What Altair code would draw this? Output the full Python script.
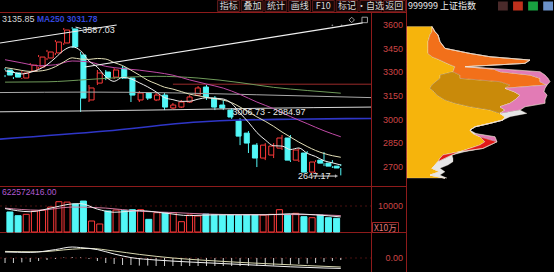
import altair as alt
import pandas as pd

# ---------------- candles (weekly) ----------------
opens = [3315, 3296, 3264, 3308, 3334, 3391, 3423, 3486, 3575, 3410,
         3125, 3232, 3302, 3270, 3327, 3264, 3125, 3169, 3125, 3156,
         3074, 3080, 3112, 3156, 3207, 3137, 3093, 3061, 2992, 2915,
         2839, 2757, 2776, 2820, 2884, 2744, 2789, 2668, 2744, 2725, 2706]
highs = [3327, 3308, 3308, 3359, 3410, 3442, 3505, 3581, 3587.03, 3429,
         3220, 3315, 3315, 3327, 3340, 3270, 3182, 3175, 3169, 3169,
         3106, 3125, 3156, 3213, 3220, 3150, 3125, 3074, 3010, 2928,
         2852, 2852, 2852, 2903, 2903, 2820, 2801, 2744, 2795, 2744, 2719]
lows = [3270, 3258, 3258, 3296, 3321, 3378, 3410, 3473, 3454, 3049,
        3112, 3220, 3251, 3258, 3258, 3112, 3112, 3125, 3118, 3061,
        3068, 3074, 3106, 3150, 3125, 3061, 3061, 3005, 2839, 2789,
        2700, 2744, 2757, 2808, 2732, 2732, 2662, 2662, 2706, 2694, 2647.17]
closes = [3283, 3270, 3296, 3346, 3397, 3429, 3492, 3568, 3461, 3137,
          3201, 3296, 3264, 3315, 3264, 3156, 3169, 3137, 3156, 3080,
          3093, 3112, 3144, 3201, 3144, 3080, 3074, 3017, 2896, 2852,
          2757, 2839, 2833, 2884, 2744, 2808, 2668, 2732, 2725, 2706, 2694]
volumes = [7700, 6270, 6800, 8080, 8350, 9600, 11650, 11500, 10770, 11900,
           4230, 3080, 8080, 8460, 8330, 8580, 8580, 4870, 7430, 7430,
           7430, 3970, 6540, 6150, 6900, 6700, 6500, 6600, 6400, 6700,
           6600, 6500, 6800, 8580, 6800, 7190, 5900, 5500, 6540, 5500, 5270]

# ---------------- moving averages ----------------
ma5 = [3310, 3300, 3290, 3300, 3318, 3348, 3392, 3440, 3462, 3437,
       3372, 3333, 3272, 3243, 3268, 3259, 3234, 3208, 3176, 3140,
       3127, 3116, 3117, 3130, 3139, 3136, 3131, 3103, 3042, 2984,
       2919, 2872, 2835, 2833, 2811, 2821, 2787, 2767, 2740, 2727, 2713]
ma10 = [3330, 3322, 3312, 3306, 3308, 3316, 3336, 3366, 3392, 3384,
        3382, 3388, 3384, 3362, 3343, 3314, 3283, 3250, 3228, 3206,
        3194, 3178, 3162, 3152, 3141, 3133, 3124, 3108, 3080, 3050,
        3018, 2990, 2958, 2922, 2890, 2858, 2830, 2805, 2786, 2772, 2762]
ma20_idx = [0, 2, 4, 6, 8, 10, 12, 14, 16, 18, 20, 22, 24, 26, 28, 30, 32, 34, 36, 38, 40]
ma20 = [3380, 3360, 3342, 3348, 3372, 3366, 3338, 3324, 3314, 3300, 3282,
        3252, 3226, 3200, 3160, 3112, 3070, 3020, 2975, 2930, 2892]
ma30_idx = [0, 5, 10, 14, 18, 23, 28, 32, 36, 40]
ma30 = [3238, 3240, 3255, 3268, 3275, 3264, 3235, 3205, 3185, 3168]
ma60_idx = [-0.6, 10, 20, 30, 43.6]
ma60 = [3172, 3175, 3170, 3158, 3140]
ma120_idx = [-0.6, 10, 20, 30, 43.6]
ma120 = [3050, 3056, 3063, 3072, 3080]
ma250_idx = [-0.6, 12, 23, 28, 34, 43.6]
ma250 = [2877, 2928, 2985, 2998, 3003, 3008]
level_idx = [20, 43.6]
level_val = [3225, 3225]
trend1_idx = [-0.6, 13.3]
trend1_val = [3486, 3600]
trend2_idx = [9.5, 42.6]
trend2_val = [3334, 3613]

# volume moving averages
vma5_idx = [0, 3, 6, 8, 9, 11, 13, 16, 19, 22, 25, 28, 31, 34, 37, 40]
vma5 = [9000, 7800, 9600, 10800, 10900, 8800, 7600, 8200, 7300, 6300, 6600, 6600, 6600, 7000, 6600, 5800]
vma10_idx = [0, 4, 8, 12, 16, 20, 24, 28, 32, 36, 40]
vma10 = [9200, 8400, 9600, 9200, 8000, 7500, 6900, 6700, 6700, 6700, 6300]

# MACD
dif_idx = [0, 3, 6, 8, 9, 11, 13, 15, 18, 22, 26, 30, 34, 38, 40]
dif = [30, 28, 42, 55, 52, 42, 20, 2, -10, -20, -28, -36, -44, -50, -52]
dea_idx = [0, 4, 8, 10, 13, 16, 20, 24, 28, 32, 36, 40]
dea = [33, 31, 44, 48, 35, 18, 0, -12, -22, -30, -38, -45]
macd_hist = [-25, -25, -22, -20, -15, -10, -5, 3, 5, 3,
             -5, -15, -25, -30, -35, -35, -38, -38, -40, -40,
             -40, -40, -40, -40, -40, -40, -40, -40, -40, -40,
             -40, -38, -38, -35, -35, -30, -28, -25, -20, -15, -10]

# chip distribution (筹码分布)
chip_price = [3590, 3557, 3537, 3494, 3452, 3420, 3399, 3378, 3357, 3336,
              3320, 3304, 3283, 3262, 3241, 3220, 3199, 3178, 3156, 3125,
              3104, 3082, 3061, 3040, 3019, 2998, 2977, 2955, 2934, 2913,
              2892, 2860, 2839, 2818, 2797, 2776, 2755, 2734, 2713, 2692,
              2670, 2649, 2630]
chip_yellow = [25, 25, 23, 21, 21, 21, 25, 33, 40, 48,
               47, 46, 33, 33, 29, 25, 23, 27, 30, 38,
               48, 63, 83, 93, 98, 96, 83, 68, 63, 66,
               73, 78, 73, 63, 53, 36, 33, 31, 28, 25,
               33, 23, 38]
chip_gold = [0, 0, 0, 0, 0, 0, 0, 0, 0, 0,
             0, 0, 20, 20, 64, 78, 75, 80, 83, 70,
             55, 30, 15, 0, 0, 0, 0, 0, 0, 0,
             0, 0, 0, 0, 0, 0, 0, 0, 0, 0,
             0, 0, 0]
chip_orange = [0, 3, 8, 12, 17, 42, 58, 90, 78, 10,
               40, 47, 70, 80, 40, 37, 0, 0, 0, 0,
               0, 0, 0, 0, 0, 0, 0, 0, 0, 0,
               0, 0, 0, 0, 0, 0, 0, 0, 0, 0,
               0, 0, 0]
chip_red = [0, 0, 0, 0, 0, 0, 0, 0, 0, 0,
            0, 0, 0, 0, 0, 0, 0, 0, 0, 0,
            0, 0, 0, 0, 0, 0, 0, 0, 0, 0,
            0, 12, 10, 13, 0, 9, 5, 0, 0, 0,
            0, 0, 0]
chip_pink = [0, 0, 0, 0, 0, 0, 0, 0, 0, 0,
             10, 40, 15, 8, 10, 0, 40, 30, 27, 30,
             35, 25, 15, 0, 0, 0, 0, 0, 0, 0,
             15, 0, 0, 0, 0, 0, 0, 0, 0, 0,
             0, 0, 0]
chip_white = [0, 0, 0, 0, 0, 0, 0, 0, 0, 0,
              0, 0, 0, 0, 0, 0, 0, 0, 0, 0,
              0, 0, 0, 27, 5, 0, 0, 0, 0, 3,
              0, 0, 0, 0, 5, 0, 8, 15, 13, 8,
              5, 10, 2]

price_ticks = [3600, 3450, 3300, 3150, 3000, 2850, 2700]
buttons = ["指标", "叠加", "统计", "画线", "F10", "标记", "•自选", "返回"]
icons = ["i1", "i2", "i3", "i4"]

# ---------------- styles / scales ----------------
RED = "#ff3a3a"
CYAN = "#52f7f7"
FRAME = "#8e1b1b"
LBL = "#cc4646"
NUM_FONT = "Liberation Sans"
CJK_FONT = "Noto Sans CJK SC"


def XI(field="i"):
    return alt.X(f"{field}:Q", axis=None,
                 scale=alt.Scale(domain=[-0.6, 43.6], range=[0, 371], nice=False, zero=False))


def YP(field):
    return alt.Y(f"{field}:Q", axis=None,
                 scale=alt.Scale(domain=[2580, 3676], range=[186, 13], nice=False, zero=False))


def YV(field):
    return alt.Y(f"{field}:Q", axis=None, stack=None,
                 scale=alt.Scale(domain=[0, 10000], range=[232, 206], nice=False, zero=False))


def YM(field):
    return alt.Y(f"{field}:Q", axis=None,
                 scale=alt.Scale(domain=[-100, 100], range=[278, 238], nice=False, zero=False))


dummy = pd.DataFrame({"a": [0]})

cd = pd.DataFrame({"i": list(range(len(closes))), "o": opens, "h": highs,
                   "l": lows, "c": closes, "vol": volumes})
cd["top"] = cd[["o", "c"]].max(axis=1)
cd["bot"] = cd[["o", "c"]].min(axis=1)
up = cd[cd["c"] >= cd["o"]]
dn = cd[cd["c"] < cd["o"]]

layers = []

# frame lines
def hline(y, x0, x1, color=FRAME, dash=None):
    kw = {"color": color, "strokeWidth": 1}
    if dash:
        kw["strokeDash"] = dash
    return alt.Chart(dummy).mark_rule(**kw).encode(
        x=alt.value(x0), x2=alt.value(x1), y=alt.value(y))


def vline(x, y0, y1, color=FRAME):
    return alt.Chart(dummy).mark_rule(color=color, strokeWidth=1).encode(
        x=alt.value(x), y=alt.value(y0), y2=alt.value(y1))


layers += [hline(12.5, 0, 406), hline(186.5, 0, 406), hline(232.5, 0, 406),
           vline(371.5, 12.5, 272), vline(406.5, 0, 272)]

# grid in volume / macd panes
layers.append(alt.Chart(pd.DataFrame({"v": [10000]})).mark_rule(
    color="#4a1010", strokeDash=[2, 3]).encode(x=alt.value(0), x2=alt.value(371), y=YV("v")))
layers.append(alt.Chart(pd.DataFrame({"v": [0]})).mark_rule(
    color="#4a1010", strokeDash=[2, 3]).encode(x=alt.value(0), x2=alt.value(371), y=YM("v")))

# chip distribution
chip_layers = [("yellow", chip_yellow, "#f6b40c"), ("gold", chip_gold, "#c98a0a"),
               ("orange", chip_orange, "#f2701a"), ("red", chip_red, "#e01818"),
               ("pink", chip_pink, "#e27bb5"), ("white", chip_white, "#e6e6e6")]
cum = [0.0] * len(chip_price)
for name, widths, col in chip_layers:
    x0 = list(cum)
    x1 = [a + b for a, b in zip(cum, widths)]
    cum = x1
    df = pd.DataFrame({"p": chip_price, "x0": x0, "x1": x1})
    layers.append(alt.Chart(df).mark_area(orient="horizontal", color=col, stroke="#f4e6d8",
                                          strokeWidth=0.5, strokeOpacity=0.55).encode(
        y=YP("p"),
        x=alt.X("x1:Q", axis=None, scale=alt.Scale(domain=[0, 150], range=[407, 557],
                                                    nice=False, zero=False)),
        x2="x0:Q"))

# candles
for sub, col in [(up, RED), (dn, CYAN)]:
    layers.append(alt.Chart(sub).mark_rule(color=col, strokeWidth=1).encode(
        x=XI(), y=YP("h"), y2="top:Q"))
    layers.append(alt.Chart(sub).mark_rule(color=col, strokeWidth=1).encode(
        x=XI(), y=YP("bot"), y2="l:Q"))
layers.append(alt.Chart(up).mark_bar(size=5, fill="#000000", stroke=RED, strokeWidth=1).encode(
    x=XI(), y=YP("o"), y2="c:Q"))
layers.append(alt.Chart(dn).mark_bar(size=5, fill=CYAN, stroke=CYAN, strokeWidth=1).encode(
    x=XI(), y=YP("o"), y2="c:Q"))


def line(idx, vals, color, width=1.0, yfun=YP, interp="monotone"):
    df = pd.DataFrame({"i": idx, "v": vals})
    return alt.Chart(df).mark_line(color=color, strokeWidth=width, interpolate=interp).encode(
        x=XI(), y=yfun("v"))


idx41 = list(range(41))
layers += [
    line(ma250_idx, ma250, "#2f36c8", 1.6),
    line(ma120_idx, ma120, "#d8d8d8", 1.0),
    line(ma60_idx, ma60, "#a9a9a9", 1.0),
    line(level_idx, level_val, "#9a2a2a", 1.0, interp="linear"),
    line(ma30_idx, ma30, "#6f9a5a", 1.0),
    line(ma20_idx, ma20, "#c04aa6", 1.0),
    line(idx41, ma10, "#e4e0b8", 1.0),
    line(idx41, ma5, "#f0f0f0", 1.0),
    line(trend1_idx, trend1_val, "#f0f0f0", 1.2, interp="linear"),
    line(trend2_idx, trend2_val, "#f0f0f0", 1.2, interp="linear"),
]

# trend line handles
layers.append(alt.Chart(pd.DataFrame({"i": [41.3], "p": [3632]})).mark_point(
    shape="diamond", color="#e0e0e0", size=30, strokeWidth=1).encode(x=XI(), y=YP("p")))
layers.append(alt.Chart(pd.DataFrame({"i": [42.85], "p": [3632]})).mark_point(
    shape="square", color="#e0e0e0", size=30, strokeWidth=1).encode(x=XI(), y=YP("p")))
layers.append(alt.Chart(pd.DataFrame({"i": [39.0, 40.1], "p": [3598, 3598]})).mark_circle(
    color="#bbbbbb", size=3).encode(x=XI(), y=YP("p")))

# annotations in price pane
layers.append(line([8.4, 9.1], [3587, 3577], "#e0e0e0", 1.0, interp="linear"))
layers.append(alt.Chart(pd.DataFrame({"i": [9.2], "p": [3571], "t": ["3587.03"]})).mark_text(
    align="left", baseline="middle", font=NUM_FONT, fontSize=9, color="#e8e8e8").encode(
    x=XI(), y=YP("p"), text="t:N"))
layers.append(alt.Chart(pd.DataFrame({"i": [27.1], "p": [3049], "t": ["3006.73 - 2984.97"]})).mark_text(
    align="left", baseline="middle", font=NUM_FONT, fontSize=9, color="#e8e8e8").encode(
    x=XI(), y=YP("p"), text="t:N"))
layers.append(alt.Chart(pd.DataFrame({"i": [34.9], "p": [2643], "t": ["2647.17"]})).mark_text(
    align="left", baseline="middle", font=NUM_FONT, fontSize=9, color="#e8e8e8").encode(
    x=XI(), y=YP("p"), text="t:N"))
layers.append(line([36.6, 39.4], [2643, 2643], "#e0e0e0", 1.0, interp="linear"))
layers.append(alt.Chart(pd.DataFrame({"i": [39.5], "p": [2643]})).mark_point(
    shape="triangle-right", filled=True, color="#e0e0e0", size=14).encode(x=XI(), y=YP("p")))

# volume bars + MAs
layers.append(alt.Chart(up).mark_bar(size=6, fill="#000000", stroke=RED, strokeWidth=1).encode(
    x=XI(), y=YV("vol")))
layers.append(alt.Chart(dn).mark_bar(size=6, fill=CYAN, stroke=CYAN, strokeWidth=1).encode(
    x=XI(), y=YV("vol")))
layers.append(line(vma10_idx, vma10, "#d27aa0", 1.0, YV))
layers.append(line(vma5_idx, vma5, "#eeeeee", 1.0, YV))

# MACD
mdf = pd.DataFrame({"i": idx41, "h": macd_hist, "z": [0] * 41})
layers.append(alt.Chart(mdf).mark_rule(color="#cfcfcf", strokeWidth=1).encode(
    x=XI(), y=YM("h"), y2="z:Q"))
layers.append(line(dea_idx, dea, "#d8d8b0", 1.0, YM))
layers.append(line(dif_idx, dif, "#f2f2f2", 1.0, YM))

# axis labels
layers.append(alt.Chart(pd.DataFrame({"p": price_ticks})).mark_text(
    align="right", baseline="middle", font=NUM_FONT, fontSize=9, color=LBL).encode(
    x=alt.value(403), y=YP("p"), text=alt.Text("p:Q", format="d")))
layers.append(alt.Chart(pd.DataFrame({"v": [10000]})).mark_text(
    align="right", baseline="middle", font=NUM_FONT, fontSize=9, color=LBL).encode(
    x=alt.value(403), y=YV("v"), text=alt.Text("v:Q", format="d")))
layers.append(alt.Chart(pd.DataFrame({"v": [0.0]})).mark_text(
    align="right", baseline="middle", font=NUM_FONT, fontSize=9, color=LBL).encode(
    x=alt.value(403), y=YM("v"), text=alt.Text("v:Q", format=".2f")))
layers.append(alt.Chart(dummy).mark_rect(fill="#000000", stroke="#a02828", strokeWidth=1).encode(
    x=alt.value(372.5), x2=alt.value(398.5), y=alt.value(222.5), y2=alt.value(232.5)))
layers.append(alt.Chart(pd.DataFrame({"t": ["X10万"]})).mark_text(
    align="left", baseline="middle", font=CJK_FONT, fontSize=8.5, color="#e07a7a").encode(
    x=alt.value(374), y=alt.value(228), text="t:N"))

# header texts
def label(txt, x, y, color, size=9, font=NUM_FONT, weight="normal"):
    return alt.Chart(pd.DataFrame({"t": [txt]})).mark_text(
        align="left", baseline="middle", font=font, fontSize=size, color=color,
        fontWeight=weight).encode(x=alt.value(x), y=alt.value(y), text="t:N")


layers += [
    label("3135.85", 2, 19, "#d4d4d4"),
    label("MA250 3031.78", 37, 19, "#3446dc", 8.5, weight="bold"),
    label("622572416.00", 2, 191.5, "#b25ad2", 8.5),
    label("999999 上证指数", 408, 6, "#ececec", 9, CJK_FONT),
]

# toolbar buttons
bdf = pd.DataFrame({"b": buttons})
bx = alt.X("b:N", axis=None, sort=None,
           scale=alt.Scale(domain=buttons, range=[217, 406], paddingInner=0.08, paddingOuter=0.02))
layers.append(alt.Chart(bdf).mark_rect(fill="#140707", stroke="#5e1a1a", strokeWidth=1).encode(
    x=bx, y=alt.value(0.5), y2=alt.value(11.5)))
layers.append(alt.Chart(bdf).mark_text(font=CJK_FONT, fontSize=9, color="#d8d8d8",
                                       baseline="middle").encode(
    x=bx, y=alt.value(6), text="b:N"))

# small icons at the top right
idf = pd.DataFrame({"k": icons})
layers.append(alt.Chart(idf).mark_rect().encode(
    x=alt.X("k:N", axis=None, sort=None,
            scale=alt.Scale(domain=icons, range=[498, 553], paddingInner=0.35, paddingOuter=0)),
    y=alt.value(1.5), y2=alt.value(10.5),
    color=alt.Color("k:N", legend=None,
                    scale=alt.Scale(domain=icons, range=["#4a2a2a", "#c0301c", "#18a040", "#6a90c8"]))))

chart = alt.layer(*layers).resolve_scale(
    x="independent", y="independent", color="independent"
).properties(
    width=554, height=272, padding=0,
    autosize=alt.AutoSizeParams(type="none"), background="#000000"
).configure_view(stroke=None)

chart.save("out.html", embed_options={"renderer": "svg", "actions": False})
